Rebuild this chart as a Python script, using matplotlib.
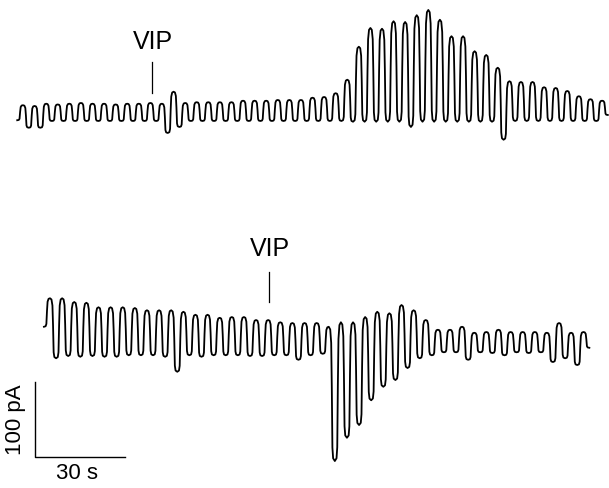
"""Two whole-cell current traces with VIP application and scale bars."""

import numpy as np
import matplotlib.pyplot as plt

plt.rcParams['font.family'] = ['Liberation Sans', 'DejaVu Sans']

# Upper trace: per-cycle peak and trough (pA, relative to its own baseline)
top_peaks = [21, 20, 23, 22, 23, 24, 23, 23, 22, 23, 23, 24, 23, 39, 24, 25, 25, 25, 25,
             27, 27, 27, 28, 28, 28, 31, 32, 37, 55, 99, 124, 123, 133, 132, 141, 148,
             135, 113, 113, 93, 88, 71, 53, 52, 52, 45, 44, 40, 33, 29, 27]
top_troughs = [1, -9, -9, 0, 0, 0, 0, 0, 0, 0, 0, 0, 0, -16, -8, 0, 0, 0, 0, 0, 0, 0, 0,
               0, 0, 0, 0, 0, 0, -1, -1, -1, -1, -1, -8, -1, -1, -1, -1, -1, -1, -1, -25,
               0, 0, 0, 0, 0, 0, 0, 0]
top_end = 8
top_first_peak = 7.67   # s
top_period = 3.86       # s

# Lower trace
bot_peaks = [77, 77, 72, 71, 65, 65, 65, 64, 61, 61, 61, 59, 55, 55, 51, 52, 52, 48, 48,
             45, 44, 44, 44, 39, 45, 45, 52, 59, 57, 68, 61, 48, 35, 35, 39, 31, 32, 35,
             32, 32, 32, 31, 44, 31, 32]
bot_troughs = [39, -3, 0, -1, 0, -1, -1, 1, 1, 1, -1, -21, 1, -1, 1, 1, 1, 0, 0, 1, 1, -5,
               1, 3, -140, -109, -92, -59, -41, -32, -16, -3, 1, 5, 5, -5, 5, 4, 1, 5, 4, 5,
               -8, -3, -12]
bot_end = 11
bot_first_peak = 16.67
bot_period = 4.04

top_offset = -161.3
bot_offset = -474.7

# shape of one cycle: (phase within period, fraction of trough->peak)
rise = [(-0.36, 0.02), (-0.30, 0.10), (-0.25, 0.55), (-0.20, 0.88), (-0.12, 0.98), (0.0, 1.0)]
fall = [(0.12, 0.98), (0.20, 0.88), (0.25, 0.55), (0.30, 0.10), (0.36, 0.02)]


def build_trace(peaks, troughs, end, t0, period):
    """Turn per-cycle peaks/troughs into a drawable waveform."""
    xs, ys = [], []
    n = len(peaks)
    for k in range(n):
        c = t0 + k * period
        lo_a = troughs[k]
        lo_b = troughs[k + 1] if k + 1 < n else end
        xs.append(c - 0.5 * period)
        ys.append(lo_a)
        for ph, f in rise:
            xs.append(c + ph * period)
            ys.append(lo_a + f * (peaks[k] - lo_a))
        for ph, f in fall:
            xs.append(c + ph * period)
            ys.append(lo_b + f * (peaks[k] - lo_b))
    xs.append(t0 + (n - 0.5) * period)
    ys.append(end)
    return np.array(xs), np.array(ys)


fig = plt.figure(figsize=(6.09, 4.88), dpi=100)
ax = fig.add_axes([0, 0, 1, 1])
ax.set_xlim(0, 203)
ax.set_ylim(-650.67, 0)
ax.axis('off')

tx, ty = build_trace(top_peaks, top_troughs, top_end, top_first_peak, top_period)
ax.plot(tx, ty + top_offset, color='black', lw=1.3, solid_joinstyle='round')
bx, by = build_trace(bot_peaks, bot_troughs, bot_end, bot_first_peak, bot_period)
ax.plot(bx, by + bot_offset, color='black', lw=1.3, solid_joinstyle='round')

# VIP markers
ax.text(51, -56, 'VIP', fontsize=18, ha='center', va='center')
ax.plot([50.8, 50.8], [-82.7, -124], color='black', lw=0.9)
ax.text(90, -332, 'VIP', fontsize=18, ha='center', va='center')
ax.plot([89.7, 89.7], [-362.7, -402.7], color='black', lw=0.9)

# scale bars: 100 pA, 30 s
ax.plot([11.67, 11.67, 41.67], [-509.3, -609.3, -609.3], color='black', lw=1.0)
ax.text(5.3, -559, '100 pA', fontsize=16, rotation=90, ha='center', va='center')
ax.text(25.5, -630.7, '30 s', fontsize=16, ha='center', va='center')

fig.savefig('out.png', dpi=100)
